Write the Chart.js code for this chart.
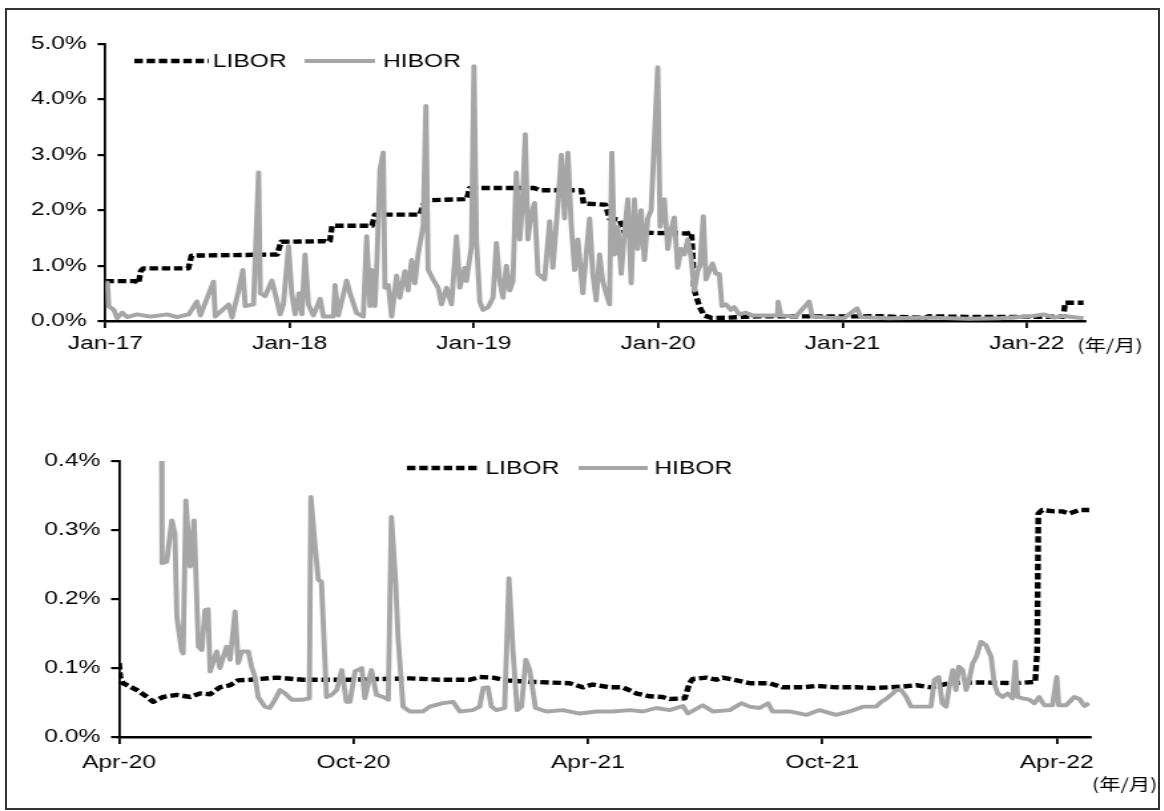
<!DOCTYPE html>
<html>
<head>
<meta charset="utf-8">
<script src="https://cdn.jsdelivr.net/npm/chart.js@4.4.1/dist/chart.umd.min.js"></script>
<style>
  html, body { margin: 0; padding: 0; background: #fff; }
  #page { position: relative; width: 1164px; height: 811px; overflow: hidden; }
  #frame { position: absolute; left: 5px; top: 8px; width: 1155px; height: 802px; border: 2px solid #333; box-sizing: border-box; }
  /* the source picture is stretched sideways, so the canvases are too */
  .stretch { position: absolute; left: 0; transform: scaleX(1.33); transform-origin: 0 0; }
  #topWrap { top: 0; }
  #bottomWrap { top: 400px; }
</style>
</head>
<body>
<div id="page">
  <div id="frame"></div>
  <div class="stretch" id="topWrap"><canvas id="topChart" width="875" height="400"></canvas></div>
  <div class="stretch" id="bottomWrap"><canvas id="bottomChart" width="875" height="411"></canvas></div>
</div>
<script>
// ---- data: x = months since the first tick, y = rate in % ----

// top panel, Jan-17 .. Apr-22
const topTickMonths = [0, 12, 24, 36, 48, 60];
const topTickLabels = ['Jan-17', 'Jan-18', 'Jan-19', 'Jan-20', 'Jan-21', 'Jan-22'];
const topYTicks = [0, 1, 2, 3, 4, 5];

const topLibor = [
  [0,0.72],[1.95,0.72],[2.15,0.68],[2.3,0.9],[2.47,0.95],[5.4,0.95],[5.6,1.18],[11.18,1.2],
  [11.44,1.43],[14.3,1.44],[14.5,1.42],[14.62,1.45],[14.76,1.72],[17.36,1.72],[17.55,1.92],
  [20.48,1.92],[20.7,2.1],[21.0,2.18],[23.53,2.2],[23.73,2.4],[27.95,2.4],[28.28,2.36],
  [31.0,2.36],[31.14,2.12],[32.57,2.1],[32.83,1.85],[33.48,1.83],[33.8,1.6],[37.9,1.58],
  [38.16,1.6],[38.35,0.56],[38.7,0.25],[39.0,0.1],[39.5,0.055],[40.5,0.06],[41.6,0.075],
  [42.5,0.085],[48,0.083],[50.5,0.085],[52.5,0.065],[53.4,0.056],[53.6,0.085],[56,0.075],
  [59,0.073],[62.4,0.078],[62.5,0.33],[63.7,0.33]
];

const topHibor = [
  [0,0.69],[0.13,0.69],[0.21,0.27],[0.54,0.2],[0.76,0.05],[1.09,0.15],[1.41,0.07],[2.06,0.12],
  [2.93,0.08],[4.01,0.12],[4.66,0.07],[5.42,0.12],[5.96,0.35],[6.18,0.1],[7.04,0.71],[7.15,0.08],
  [8.02,0.3],[8.24,0.06],[8.67,0.55],[8.95,0.92],[9.1,0.27],[9.64,0.3],[9.97,2.68],[10.08,0.5],
  [10.4,0.45],[10.84,0.73],[11.05,0.5],[11.38,0.12],[11.59,0.3],[11.92,1.35],[12.13,0.5],
  [12.35,0.12],[12.61,0.5],[12.79,0.12],[13.0,1.2],[13.22,0.3],[13.54,0.1],[13.98,0.4],
  [14.19,0.08],[14.84,0.08],[14.95,0.65],[15.17,0.1],[15.71,0.73],[15.93,0.5],[16.36,0.14],
  [16.79,0.08],[17.01,1.53],[17.23,0.27],[17.33,0.92],[17.55,0.27],[17.7,1.22],[17.88,2.73],
  [18.09,3.04],[18.2,0.6],[18.42,0.65],[18.64,0.08],[18.96,0.82],[19.17,0.42],[19.5,0.9],
  [19.71,0.55],[19.94,1.1],[20.15,0.68],[20.37,1.22],[20.69,1.71],[20.87,3.88],[21.01,0.93],
  [21.34,0.75],[21.67,0.6],[21.89,0.3],[22.21,0.6],[22.54,0.3],[22.86,1.53],[23.08,0.6],
  [23.4,0.96],[23.51,0.72],[23.84,1.35],[24.0,4.6],[24.16,1.47],[24.38,0.35],[24.59,0.2],
  [24.92,0.25],[25.24,0.42],[25.46,1.41],[25.68,0.72],[25.89,0.42],[26.11,1.0],[26.33,0.55],
  [26.54,0.72],[26.76,2.68],[26.98,1.47],[27.15,2.06],[27.34,3.37],[27.51,1.47],[27.73,1.95],
  [27.95,2.13],[28.17,0.85],[28.39,0.8],[28.6,0.75],[28.93,1.8],[29.14,0.96],[29.47,2.13],
  [29.69,3.0],[29.9,1.85],[30.12,3.04],[30.34,1.73],[30.56,0.92],[30.77,1.47],[31.09,0.5],
  [31.31,1.2],[31.53,1.85],[31.74,0.85],[31.96,0.37],[32.18,1.2],[32.39,0.72],[32.61,0.5],
  [32.83,0.3],[32.98,3.04],[33.15,1.2],[33.37,1.7],[33.59,0.85],[33.8,1.6],[34.02,2.2],
  [34.24,0.68],[34.45,2.2],[34.67,1.3],[34.89,2.0],[35.1,1.1],[35.32,1.85],[35.54,2.0],
  [35.69,2.92],[35.97,4.58],[36.12,1.7],[36.4,2.2],[36.62,1.3],[36.84,1.65],[37.05,1.87],
  [37.27,0.96],[37.49,1.3],[37.7,1.2],[37.92,1.47],[38.14,1.15],[38.35,0.55],[38.57,0.9],
  [38.72,1.0],[38.94,1.89],[39.11,0.75],[39.33,0.9],[39.54,1.04],[39.76,0.85],[39.98,0.85],
  [40.15,0.27],[40.41,0.3],[40.73,0.2],[40.95,0.25],[41.28,0.12],[41.71,0.15],[42.14,0.1],
  [43.01,0.1],[43.77,0.1],[43.81,0.35],[43.99,0.1],[44.96,0.08],[45.83,0.35],[46.04,0.08],
  [47.13,0.06],[48.1,0.05],[48.95,0.23],[49.2,0.07],[51.0,0.05],[53.6,0.06],[56.2,0.04],
  [58.2,0.05],[60.1,0.08],[61.1,0.12],[61.8,0.06],[62.4,0.09],[63.7,0.05]
];

// bottom panel, Apr-20 .. Apr-22
const bottomTickMonths = [0, 6, 12, 18, 24];
const bottomTickLabels = ['Apr-20', 'Oct-20', 'Apr-21', 'Oct-21', 'Apr-22'];
const bottomYTicks = [0, 0.1, 0.2, 0.3, 0.4];

const bottomLibor = [
  [0,0.107],[0.03,0.087],[0.10,0.078],[0.46,0.068],[0.72,0.058],[0.87,0.051],[1.13,0.058],
  [1.48,0.061],[1.82,0.058],[2.07,0.063],[2.33,0.062],[2.58,0.072],[2.84,0.075],[3.04,0.082],
  [3.35,0.083],[4.04,0.086],[4.71,0.083],[5.91,0.083],[7.44,0.085],[8.21,0.083],[8.98,0.083],
  [9.23,0.087],[9.57,0.086],[9.92,0.082],[10.51,0.08],[11.02,0.079],[11.53,0.078],[11.87,0.072],
  [12.12,0.076],[12.56,0.072],[12.89,0.072],[13.25,0.063],[13.58,0.059],[13.91,0.058],
  [14.09,0.055],[14.48,0.056],[14.60,0.078],[14.68,0.084],[15.04,0.086],[15.29,0.083],
  [15.45,0.086],[15.81,0.082],[16.14,0.078],[16.65,0.078],[16.98,0.072],[17.49,0.072],
  [17.85,0.074],[18.36,0.072],[18.87,0.072],[19.28,0.071],[19.72,0.072],[20.05,0.073],
  [20.41,0.075],[20.79,0.072],[21.25,0.078],[21.69,0.079],[22.10,0.079],[22.97,0.078],
  [23.45,0.08],[23.50,0.126],[23.53,0.324],[23.63,0.329],[23.94,0.327],[24.14,0.327],
  [24.32,0.324],[24.58,0.329],[24.83,0.329]
];

const bottomHibor = [
  [1.09,0.4],[1.10,0.252],[1.22,0.254],[1.35,0.314],[1.43,0.295],[1.48,0.174],[1.60,0.126],
  [1.64,0.121],[1.71,0.343],[1.82,0.247],[1.92,0.314],[2.03,0.131],[2.12,0.126],[2.20,0.184],
  [2.28,0.185],[2.33,0.095],[2.50,0.124],[2.58,0.1],[2.75,0.131],[2.84,0.112],[2.97,0.182],
  [3.05,0.107],[3.14,0.124],[3.31,0.124],[3.39,0.102],[3.48,0.087],[3.56,0.058],[3.73,0.044],
  [3.86,0.042],[3.99,0.054],[4.12,0.068],[4.25,0.063],[4.42,0.054],[4.71,0.054],[4.87,0.056],
  [4.91,0.348],[5.01,0.281],[5.10,0.228],[5.18,0.225],[5.31,0.058],[5.44,0.061],[5.57,0.068],
  [5.70,0.097],[5.82,0.051],[5.91,0.051],[6.04,0.095],[6.21,0.1],[6.29,0.056],[6.46,0.097],
  [6.59,0.061],[6.76,0.058],[6.89,0.054],[6.97,0.319],[7.08,0.223],[7.14,0.145],[7.27,0.044],
  [7.44,0.037],[7.78,0.037],[7.95,0.044],[8.29,0.049],[8.55,0.051],[8.72,0.037],[9.05,0.039],
  [9.23,0.044],[9.32,0.071],[9.44,0.072],[9.53,0.044],[9.66,0.039],[9.87,0.042],[9.98,0.23],
  [10.08,0.126],[10.19,0.039],[10.30,0.044],[10.41,0.112],[10.51,0.097],[10.66,0.042],
  [10.94,0.037],[11.36,0.039],[11.79,0.034],[12.22,0.037],[12.64,0.037],[13.07,0.039],
  [13.41,0.037],[13.75,0.042],[14.09,0.039],[14.43,0.045],[14.56,0.034],[14.94,0.046],
  [15.20,0.037],[15.63,0.039],[15.93,0.049],[16.14,0.044],[16.39,0.042],[16.61,0.049],
  [16.73,0.037],[17.16,0.037],[17.59,0.032],[17.93,0.039],[18.35,0.032],[18.70,0.037],
  [19.04,0.044],[19.38,0.044],[19.51,0.051],[19.63,0.055],[19.80,0.063],[19.89,0.068],
  [20.02,0.068],[20.15,0.058],[20.27,0.044],[20.78,0.044],[20.87,0.083],[20.98,0.087],
  [21.07,0.049],[21.17,0.044],[21.25,0.073],[21.34,0.097],[21.42,0.068],[21.49,0.102],
  [21.59,0.097],[21.68,0.068],[21.76,0.083],[21.85,0.107],[21.94,0.116],[22.06,0.138],
  [22.19,0.133],[22.32,0.116],[22.40,0.078],[22.49,0.063],[22.62,0.058],[22.74,0.063],
  [22.87,0.056],[22.94,0.109],[23.0,0.058],[23.13,0.056],[23.30,0.054],[23.43,0.049],
  [23.55,0.058],[23.68,0.046],[23.89,0.046],[24.0,0.087],[24.05,0.046],[24.24,0.046],
  [24.45,0.058],[24.58,0.055],[24.71,0.045],[24.83,0.049]
];

// ---- styling ----
const FONT = '"Liberation Sans", Arial, sans-serif';
const CJK_FONT = '"Noto Sans CJK SC", "Noto Sans CJK JP", sans-serif';
const LIBOR_COLOR = '#000000';
const HIBOR_COLOR = '#a6a6a6';
const LIBOR_DASH = [6.4, 2.8];

// legend and unit label drawn straight onto the canvas
const sketchLegend = {
  id: 'sketchLegend',
  afterDraw(chart, args, opts) {
    const ctx = chart.ctx;
    ctx.save();
    opts.items.forEach(item => {
      ctx.beginPath();
      ctx.setLineDash(item.dash || []);
      ctx.lineCap = 'butt';
      ctx.lineWidth = item.width;
      ctx.strokeStyle = item.color;
      ctx.moveTo(item.x1, opts.y);
      ctx.lineTo(item.x2, opts.y);
      ctx.stroke();
      ctx.setLineDash([]);
      ctx.fillStyle = '#000';
      ctx.font = '18.5px ' + FONT;
      ctx.textBaseline = 'middle';
      ctx.textAlign = 'left';
      ctx.fillText(item.text, item.tx, opts.y + 1);
    });
    if (opts.unit) {
      ctx.font = '16px ' + CJK_FONT;
      ctx.fillStyle = '#000';
      ctx.textBaseline = 'middle';
      ctx.textAlign = 'left';
      ctx.fillText(opts.unit.text, opts.unit.x, opts.unit.y);
    }
    ctx.restore();
  }
};

function toPoints(pairs) {
  return pairs.map(p => ({ x: p[0], y: p[1] }));
}

function makeChart(id, cfg) {
  const ctx = document.getElementById(id).getContext('2d');
  return new Chart(ctx, {
    type: 'line',
    data: {
      datasets: [
        {
          label: 'LIBOR',
          data: toPoints(cfg.libor),
          borderColor: LIBOR_COLOR,
          borderWidth: 4.4,
          borderDash: LIBOR_DASH,
          borderCapStyle: 'butt',
          borderJoinStyle: 'round',
          order: 1
        },
        {
          label: 'HIBOR',
          data: toPoints(cfg.hibor),
          borderColor: HIBOR_COLOR,
          borderWidth: 3.9,
          borderJoinStyle: 'round',
          order: 0
        }
      ]
    },
    options: {
      responsive: false,
      animation: false,
      devicePixelRatio: 1,
      layout: { padding: cfg.padding },
      elements: {
        point: { radius: 0, hoverRadius: 0 },
        line: { tension: 0, fill: false }
      },
      plugins: {
        legend: { display: false },
        tooltip: { enabled: false },
        sketchLegend: cfg.legend
      },
      scales: {
        x: {
          type: 'linear',
          min: 0,
          max: cfg.xMax,
          afterBuildTicks: (scale) => { scale.ticks = cfg.xTicks.map(v => ({ value: v })); },
          afterFit: (scale) => { scale.height = 40; },
          grid: { drawOnChartArea: false, drawTicks: true, tickLength: 7, color: '#000', lineWidth: 1.8 },
          border: { display: true, color: '#000', width: 2.4 },
          ticks: {
            color: '#000',
            font: { family: FONT, size: 18.5 },
            padding: cfg.xPad,
            maxRotation: 0,
            autoSkip: false,
            callback: (value, index) => cfg.xLabels[index]
          }
        },
        y: {
          min: 0,
          max: cfg.yMax,
          afterBuildTicks: (scale) => { scale.ticks = cfg.yTicks.map(v => ({ value: v })); },
          afterFit: (scale) => { scale.width = cfg.yWidth; },
          grid: { drawOnChartArea: false, drawTicks: true, tickLength: 6, color: '#000', lineWidth: 2.2 },
          border: { display: true, color: '#000', width: 1.8 },
          ticks: {
            color: '#000',
            font: { family: FONT, size: 18.5 },
            padding: 8,
            callback: (value) => value.toFixed(1) + '%'
          }
        }
      }
    },
    plugins: [sketchLegend]
  });
}

makeChart('topChart', {
  libor: topLibor,
  hibor: topHibor,
  xMax: 63.8,
  yMax: 5,
  xTicks: topTickMonths,
  xLabels: topTickLabels,
  xPad: 5,
  yTicks: topYTicks,
  yWidth: 79.3,
  padding: { left: 0, right: 59.2, top: 44, bottom: 39 },
  legend: {
    y: 61,
    items: [
      { text: 'LIBOR', x1: 101, x2: 157, tx: 160, color: LIBOR_COLOR, width: 4.4, dash: LIBOR_DASH },
      { text: 'HIBOR', x1: 229, x2: 282, tx: 288, color: HIBOR_COLOR, width: 4 }
    ],
    unit: { text: '(年/月)', x: 810, y: 345 }
  }
});

makeChart('bottomChart', {
  libor: bottomLibor,
  hibor: bottomHibor,
  xMax: 24.85,
  yMax: 0.4,
  xTicks: bottomTickMonths,
  xLabels: bottomTickLabels,
  xPad: 8,
  yTicks: bottomYTicks,
  yWidth: 89.5,
  padding: { left: 0, right: 55.5, top: 61, bottom: 34 },
  legend: {
    y: 68,
    items: [
      { text: 'LIBOR', x1: 306, x2: 361, tx: 365, color: LIBOR_COLOR, width: 4.4, dash: LIBOR_DASH },
      { text: 'HIBOR', x1: 435, x2: 487, tx: 492, color: HIBOR_COLOR, width: 4 }
    ],
    unit: { text: '(年/月)', x: 821, y: 384 }
  }
});
</script>
</body>
</html>
